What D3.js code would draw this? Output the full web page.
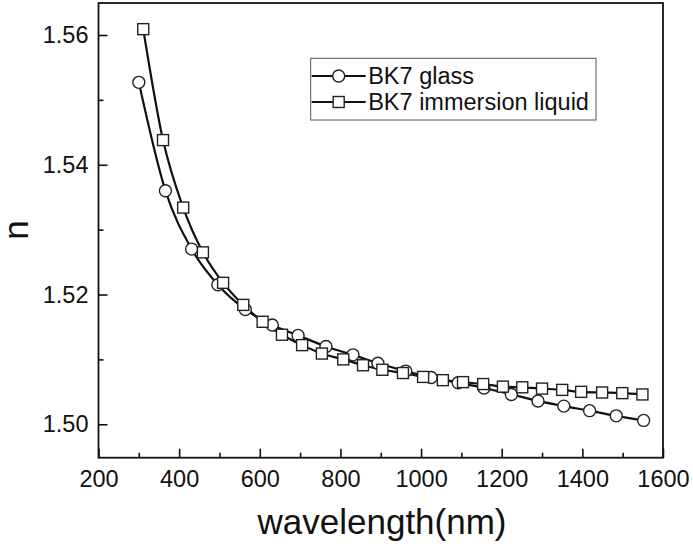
<!DOCTYPE html>
<html>
<head>
<meta charset="utf-8">
<script src="https://cdn.jsdelivr.net/npm/d3@7"></script>
<style>
  body { margin: 0; background: #fff; }
  text { font-family: "Liberation Sans", Arial, sans-serif; fill: #111; }
</style>
</head>
<body>
<svg class="root"></svg>
<script>
// BK7 glass (circles)
var glassWl = [300, 366, 431, 496, 564, 631, 695, 764, 831, 893, 962, 1025, 1092, 1156, 1224, 1290, 1354, 1418, 1484, 1552];
var glassN  = [1.5527, 1.5360, 1.5270, 1.5215, 1.5177, 1.5153, 1.5137, 1.5120, 1.5107, 1.5094, 1.5082, 1.5072, 1.5064, 1.5056, 1.5046, 1.5036, 1.5028, 1.5021, 1.5013, 1.5006];
// BK7 immersion liquid (squares)
var liquidWl = [311, 360, 410, 459, 509, 559, 607, 655, 705, 754, 807, 856, 904, 955, 1005, 1054, 1104, 1154, 1203, 1251, 1300, 1350, 1397, 1449, 1499, 1549];
var liquidN  = [1.5609, 1.5438, 1.5334, 1.5265, 1.5218, 1.5184, 1.5158, 1.5138, 1.5122, 1.5109, 1.5100, 1.5091, 1.5084, 1.5079, 1.5073, 1.5068, 1.5065, 1.5062, 1.5058, 1.5057, 1.5055, 1.5053, 1.5050, 1.5049, 1.5048, 1.5046];

var xTicks = [200, 400, 600, 800, 1000, 1200, 1400, 1600];
var xMinor = [300, 500, 700, 900, 1100, 1300, 1500];
var yTicks = [1.50, 1.52, 1.54, 1.56];
var yMinor = [1.51, 1.53, 1.55];
var seriesNames = ["BK7 glass", "BK7 immersion liquid"];

var W = 693, H = 547,
    margin = {top: 3, right: 30, bottom: 89.3, left: 98.5},
    width = W - margin.left - margin.right,
    height = H - margin.top - margin.bottom;

var svg = d3.select(".root")
    .attr("width", W)
    .attr("height", H)
  .append("g")
    .attr("transform", "translate(" + margin.left + "," + margin.top + ")");

var x = d3.scaleLinear().domain([200, 1600]).range([0, width]);
var y = d3.scaleLinear().domain([1.49485, 1.56493]).range([height, 0]);

// axes (ticks pointing inward)
svg.append("g")
    .attr("transform", "translate(0," + height + ")")
    .call(d3.axisBottom(x).tickValues(xTicks).tickSizeInner(-9).tickSizeOuter(0).tickPadding(13).tickFormat(d3.format("d")));
svg.append("g")
    .attr("transform", "translate(0," + height + ")")
    .call(d3.axisBottom(x).tickValues(xMinor).tickSizeInner(-5).tickSizeOuter(0).tickFormat(""));

svg.append("g")
    .call(d3.axisLeft(y).tickValues(yTicks).tickSizeInner(-9).tickSizeOuter(0).tickPadding(10).tickFormat(d3.format(".2f")));
svg.append("g")
    .call(d3.axisLeft(y).tickValues(yMinor).tickSizeInner(-5).tickSizeOuter(0).tickFormat(""));

svg.selectAll(".tick line").attr("stroke", "#111").attr("stroke-width", 1.6);
svg.selectAll(".domain").remove();
svg.selectAll(".tick text")
    .style("font-size", "23.5px")
    .style("font-family", "'Liberation Sans', Arial, sans-serif")
    .attr("fill", "#111");

// frame
svg.append("rect")
    .attr("width", width)
    .attr("height", height)
    .attr("fill", "none")
    .attr("stroke", "#111")
    .attr("stroke-width", 1.8);

var line = d3.line()
    .x(function(d) { return x(d[0]); })
    .y(function(d) { return y(d[1]); })
    .curve(d3.curveMonotoneX);

var glass = glassWl.map(function(d, i) { return [d, glassN[i]]; });
var liquid = liquidWl.map(function(d, i) { return [d, liquidN[i]]; });

svg.append("path").datum(glass)
    .attr("d", line).attr("fill", "none").attr("stroke", "#111").attr("stroke-width", 2.2);
svg.append("path").datum(liquid)
    .attr("d", line).attr("fill", "none").attr("stroke", "#111").attr("stroke-width", 2.2);

svg.selectAll(".circ")
    .data(glass)
  .enter().append("circle")
    .attr("class", "circ")
    .attr("cx", function(d) { return x(d[0]); })
    .attr("cy", function(d) { return y(d[1]); })
    .attr("r", 6)
    .attr("fill", "#fff")
    .attr("stroke", "#222")
    .attr("stroke-width", 1.4);

svg.selectAll(".sq")
    .data(liquid)
  .enter().append("rect")
    .attr("class", "sq")
    .attr("x", function(d) { return x(d[0]) - 5.5; })
    .attr("y", function(d) { return y(d[1]) - 5.5; })
    .attr("width", 11)
    .attr("height", 11)
    .attr("fill", "#fff")
    .attr("stroke", "#222")
    .attr("stroke-width", 1.4);

// legend
var lg = svg.append("g").attr("transform", "translate(" + (310.7 - margin.left) + "," + (58.3 - margin.top) + ")");
lg.append("rect")
    .attr("width", 285.3).attr("height", 61.7)
    .attr("fill", "#fff").attr("stroke", "#555").attr("stroke-width", 1);

seriesNames.forEach(function(name, i) {
  var ly = 17.7 + i * 26;
  lg.append("line").attr("x1", 1).attr("x2", 55).attr("y1", ly).attr("y2", ly)
    .attr("stroke", "#111").attr("stroke-width", 2.2);
  if (i === 0) {
    lg.append("circle").attr("cx", 28).attr("cy", ly).attr("r", 6)
      .attr("fill", "#fff").attr("stroke", "#222").attr("stroke-width", 1.4);
  } else {
    lg.append("rect").attr("x", 22.5).attr("y", ly - 5.5).attr("width", 11).attr("height", 11)
      .attr("fill", "#fff").attr("stroke", "#222").attr("stroke-width", 1.4);
  }
  lg.append("text").attr("x", 57.5).attr("y", ly).attr("dy", "0.35em")
    .style("font-size", "23.5px").text(name);
});

// axis titles
svg.append("text")
    .attr("text-anchor", "middle")
    .attr("x", (382 - margin.left))
    .attr("y", 534 - margin.top)
    .style("font-size", "35px")
    .text("wavelength(nm)");

svg.append("text")
    .attr("text-anchor", "middle")
    .attr("transform", "translate(" + (28 - margin.left) + "," + (230 - margin.top) + ")rotate(-90)")
    .style("font-size", "35px")
    .text("n");
</script>
</body>
</html>
